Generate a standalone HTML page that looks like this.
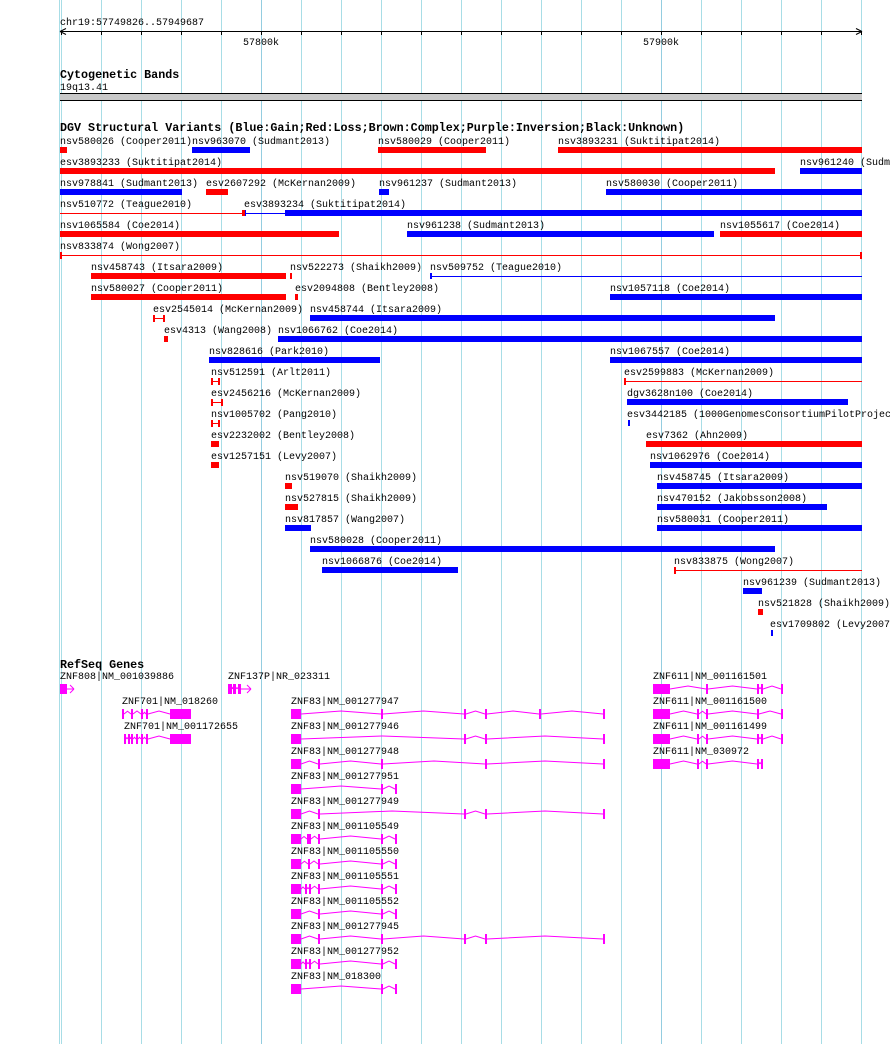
<!DOCTYPE html>
<html><head><meta charset="utf-8"><style>
html,body{margin:0;padding:0;background:#fff;width:890px;height:1044px;overflow:hidden}
svg{display:block}
text{font-family:"Liberation Mono",monospace;font-size:10px;fill:#000}
.b{font-weight:bold;font-size:11.7px}
</style></head><body>
<svg id="s" width="890" height="1044" xmlns="http://www.w3.org/2000/svg"></svg>
<script>
var s=document.getElementById('s'),h='';
function R(x,y,w,hh,c){h+='<rect x="'+x+'" y="'+y+'" width="'+w+'" height="'+hh+'" fill="'+c+'"/>';}
function L(x1,y1,x2,y2,c,w){h+='<line x1="'+x1+'" y1="'+y1+'" x2="'+x2+'" y2="'+y2+'" stroke="'+c+'" stroke-width="'+(w||1)+'"/>';}
function T(x,y,t,cl){h+='<text x="'+x+'" y="'+y+'"'+(cl?' class="'+cl+'"':'')+'>'+t+'</text>';}
// grid
R(59,0,1,1044,'#a8dde6');
for(var k=0;k<=20;k++){var x=61+40*k;R(x,0,1,1044,(k==5||k==15)?'#94cde0':'#a8dde6');}
// ruler
T(60,25,'chr19:57749826..57949687');
L(60,31.5,862,31.5,'#000');
L(60,31.5,66,28.5,'#000');L(60,31.5,66,34.5,'#000');
L(862,31.5,856,28.5,'#000');L(862,31.5,856,34.5,'#000');
for(var k=0;k<=20;k++){var x=61.5+40*k;L(x,31,x,35,'#000');}
T(243,45,'57800k');T(643,45,'57900k');
T(60,78,'Cytogenetic Bands','b');T(60,90,'19q13.41');
R(60,93,802,8,'#000');R(60,94,802,6,'#c8c8c8');
T(60,131,'DGV Structural Variants (Blue:Gain;Red:Loss;Brown:Complex;Purple:Inversion;Black:Unknown)','b');
var RED='#ff0000',BLUE='#0000ff';
var F=[
[0,60,'nsv580026 (Cooper2011)','b',RED,60,67],
[0,192,'nsv963070 (Sudmant2013)','b',BLUE,192,250],
[0,378,'nsv580029 (Cooper2011)','b',RED,378,486],
[0,558,'nsv3893231 (Suktitipat2014)','b',RED,558,862],
[1,60,'esv3893233 (Suktitipat2014)','b',RED,60,775],
[1,800,'nsv961240 (Sudmant2013)','b',BLUE,800,862],
[2,60,'nsv978841 (Sudmant2013)','b',BLUE,60,182],
[2,206,'esv2607292 (McKernan2009)','b',RED,206,228],
[2,379,'nsv961237 (Sudmant2013)','b',BLUE,379,389],
[2,606,'nsv580030 (Cooper2011)','b',BLUE,606,862],
[3,60,'nsv510772 (Teague2010)','l',RED,60,243],
[3,244,'esv3893234 (Suktitipat2014)','l',BLUE,245,285],
[3,0,'','b',BLUE,285,862],
[3,0,'','b',RED,242,245],
[3,0,'','b',BLUE,245,246],
[4,60,'nsv1065584 (Coe2014)','b',RED,60,339],
[4,407,'nsv961238 (Sudmant2013)','b',BLUE,407,714],
[4,720,'nsv1055617 (Coe2014)','b',RED,720,862],
[5,60,'nsv833874 (Wong2007)','t',RED,60,862],
[6,91,'nsv458743 (Itsara2009)','b',RED,91,286],
[6,290,'nsv522273 (Shaikh2009)','b',RED,290,292],
[6,430,'nsv509752 (Teague2010)','l',BLUE,430,862],
[6,0,'','b',BLUE,430,432],
[7,91,'nsv580027 (Cooper2011)','b',RED,91,286],
[7,295,'esv2094808 (Bentley2008)','b',RED,295,298],
[7,610,'nsv1057118 (Coe2014)','b',BLUE,610,862],
[8,153,'esv2545014 (McKernan2009)','t',RED,153,165],
[8,310,'nsv458744 (Itsara2009)','b',BLUE,310,775],
[9,164,'esv4313 (Wang2008)','b',RED,164,168],
[9,278,'nsv1066762 (Coe2014)','b',BLUE,278,862],
[10,209,'nsv828616 (Park2010)','b',BLUE,209,380],
[10,610,'nsv1067557 (Coe2014)','b',BLUE,610,862],
[11,211,'nsv512591 (Arlt2011)','t',RED,211,220],
[11,624,'esv2599883 (McKernan2009)','t1',RED,624,862],
[12,211,'esv2456216 (McKernan2009)','t',RED,211,223],
[12,627,'dgv3628n100 (Coe2014)','b',BLUE,627,848],
[13,211,'nsv1005702 (Pang2010)','t',RED,211,220],
[13,627,'esv3442185 (1000GenomesConsortiumPilotProjec','b',BLUE,628,630],
[14,211,'esv2232002 (Bentley2008)','b',RED,211,219],
[14,646,'esv7362 (Ahn2009)','b',RED,646,862],
[15,211,'esv1257151 (Levy2007)','b',RED,211,219],
[15,650,'nsv1062976 (Coe2014)','b',BLUE,650,862],
[16,285,'nsv519070 (Shaikh2009)','b',RED,285,292],
[16,657,'nsv458745 (Itsara2009)','b',BLUE,657,862],
[17,285,'nsv527815 (Shaikh2009)','b',RED,285,298],
[17,657,'nsv470152 (Jakobsson2008)','b',BLUE,657,827],
[18,285,'nsv817857 (Wang2007)','b',BLUE,285,311],
[18,657,'nsv580031 (Cooper2011)','b',BLUE,657,862],
[19,310,'nsv580028 (Cooper2011)','b',BLUE,310,775],
[20,322,'nsv1066876 (Coe2014)','b',BLUE,322,458],
[20,674,'nsv833875 (Wong2007)','t1',RED,674,862],
[21,743,'nsv961239 (Sudmant2013)','b',BLUE,743,762],
[22,758,'nsv521828 (Shaikh2009)','b',RED,758,763],
[23,770,'esv1709802 (Levy2007)','b',BLUE,771,773]
];
F.forEach(function(f){var by=147+21*f[0];
 if(f[2])T(f[1],by-3,f[2]);
 if(f[3]=='b')R(f[5],by,f[6]-f[5],6,f[4]);
 else{L(f[5],by+3.5,f[6],by+3.5,f[4]);
  if(f[3]=='t'||f[3]=='t1'){R(f[5],by,2,7,f[4]);}
  if(f[3]=='t'){R(f[6]-2,by,2,7,f[4]);}
 }});
R(860,252,2,7,RED);
T(60,668,'RefSeq Genes','b');
var M='#ff00ff';
function G(row,lx,label,x1,x2,boxes,ticks,arrow){
 var ly=679+25*(row),gy=ly+5,cy=gy+5;
 T(lx,ly,label);
 var ex=[];boxes.forEach(function(b){ex.push([b[0],b[1]]);});ticks.forEach(function(t){ex.push([t,t+2]);});
 ex.sort(function(a,b){return a[0]-b[0]});
 for(var i=0;i<ex.length-1;i++){var a=ex[i][1],b=ex[i+1][0];if(b>a){var m=(a+b)/2,ht=Math.min(3,(b-a)/4+1);
  h+='<polyline points="'+a+','+cy+' '+m+','+(cy-ht)+' '+b+','+cy+'" fill="none" stroke="'+M+'" stroke-width="1"/>';}}
 boxes.forEach(function(b){R(b[0],gy,b[1]-b[0],10,M);});
 ticks.forEach(function(t){R(t,gy,2,10,M);});
 if(arrow){L(arrow[0],cy,arrow[1],cy,M);L(arrow[1],cy,arrow[1]-4,cy-4,M);L(arrow[1],cy,arrow[1]-4,cy+4,M);}
}
G(0,60,'ZNF808|NM_001039886',60,67,[[60,67]],[],[67,74]);
G(0,228,'ZNF137P|NR_023311',228,241,[[228,232],[233,236],[238,241]],[],[241,251]);
G(1,122,'ZNF701|NM_018260',122,191,[[170,191]],[122,131,141,146],0);
G(2,124,'ZNF701|NM_001172655',124,191,[[170,191]],[124,128,131,136,141,146],0);
var Z=[['NM_001277947',[381,464,485,539,603]],['NM_001277946',[464,485,603]],['NM_001277948',[318,381,485,603]],
['NM_001277951',[381,395]],['NM_001277949',[318,464,485,603]],['NM_001105549',[307,309,318,381,395]],
['NM_001105550',[308,318,381,395]],['NM_001105551',[305,309,318,381,395]],['NM_001105552',[318,381,395]],
['NM_001277945',[318,381,464,485,603]],['NM_001277952',[305,309,318,381,395]],['NM_018300',[381,395]]];
Z.forEach(function(z,i){G(1+i,291,'ZNF83|'+z[0],291,605,[[291,301]],z[1],0);});
G(0,653,'ZNF611|NM_001161501',653,782,[[653,670]],[706,757,761,781],0);
G(1,653,'ZNF611|NM_001161500',653,782,[[653,670]],[697,706,757,781],0);
G(2,653,'ZNF611|NM_001161499',653,782,[[653,670]],[697,706,757,761,781],0);
G(3,653,'ZNF611|NM_030972',653,763,[[653,670]],[697,706,757,761],0);
s.innerHTML=h;
</script>
</body></html>
